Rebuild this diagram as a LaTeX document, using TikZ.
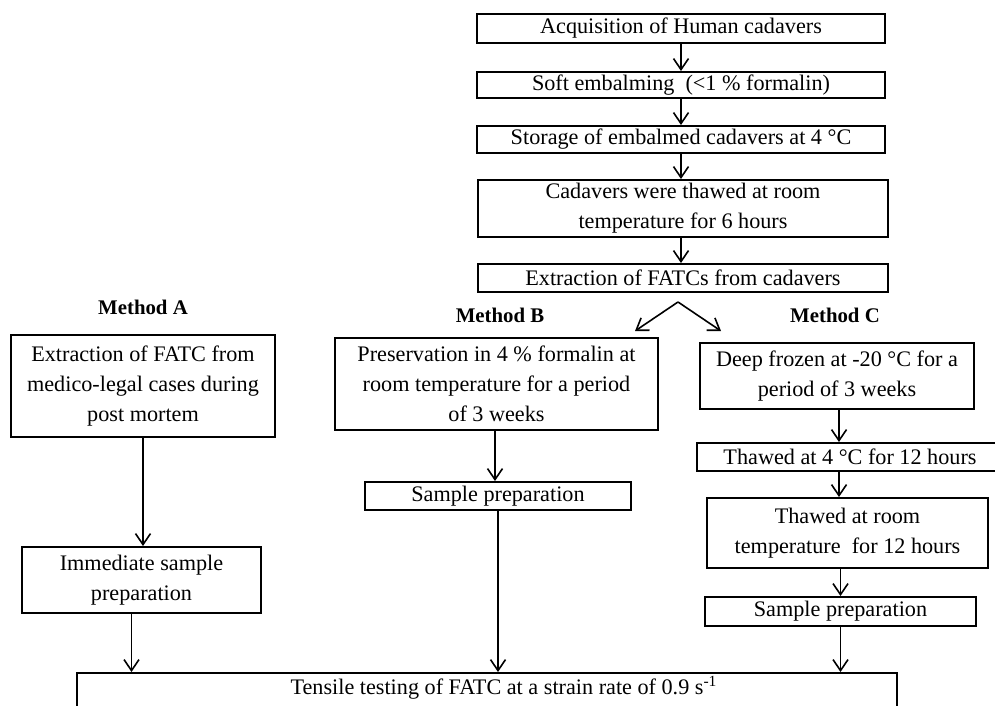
\documentclass[tikz,border=0pt]{standalone}
\usepackage{fontspec}
\setmainfont{Liberation Serif}
\usepackage{tikz}
\usetikzlibrary{arrows.meta, calc, positioning}
\tikzstyle{arrow} = [line width=0.8pt, -{Straight Barb[length=5.5pt,width=7.5pt,line width=0.8pt]}]
\tikzstyle{stepbox} = [draw=black, line width=1pt, rectangle, inner sep=0pt, align=center, font=\fontsize{11.1}{15}\selectfont]
\tikzstyle{method} = [font=\fontsize{10.4}{12}\selectfont\bfseries]
\begin{document}
\begin{tikzpicture}[x=0.5pt, y=-0.5pt]
                    \useasboundingbox (0, 0) rectangle (995, 706);
                    \clip (0, 0) rectangle (995, 706);
                    \fill[white] (0, 0) rectangle (995, 706);
                    \node[stepbox, minimum width=204pt, minimum height=14.5pt] (acq) at (681, 28.5) {Acquisition of Human cadavers};
                    \node[stepbox, minimum width=204pt, minimum height=13pt] (emb) at (681, 85) {Soft embalming\ \ (<1 \% formalin)};
                    \node[stepbox, minimum width=204pt, minimum height=13.5pt] (store) at (681, 139.5) {Storage of embalmed cadavers at 4 °C};
                    \node[stepbox, minimum width=205pt, minimum height=28.5pt] (thaw) at (683, 208.5) {Cadavers were thawed at room\\temperature for 6 hours};
                    \node[stepbox, minimum width=205pt, minimum height=14pt] (extr) at (683, 278) {Extraction of FATCs from cadavers};
                    \coordinate (fork) at (678, 302);
                    \coordinate (forkB) at (635, 331);
                    \coordinate (forkC) at (721, 331);
                    \node[method] (methA) at (143, 307) {Method A};
                    \node[method] (methB) at (500, 315) {Method B};
                    \node[method] (methC) at (835, 315) {Method C};
                    \node[stepbox, minimum width=132pt, minimum height=51pt] (extrA) at (143, 386) {Extraction of FATC from\\medico-legal cases during\\post mortem};
                    \node[stepbox, minimum width=119.5pt, minimum height=33pt] (prepA) at (141.5, 580) {Immediate sample\\preparation};
                    \node[stepbox, minimum width=161.5pt, minimum height=46pt] (presB) at (496.5, 384) {Preservation in 4 \% formalin at\\room temperature for a period\\of 3 weeks};
                    \node[stepbox, minimum width=133pt, minimum height=14pt] (prepB) at (498, 496) {Sample preparation};
                    \node[stepbox, minimum width=137pt, minimum height=33pt] (frozC) at (837, 376) {Deep frozen at -20 °C for a\\period of 3 weeks};
                    \node[stepbox, minimum width=153pt, minimum height=14pt] (thawC) at (850, 457) {Thawed at 4 °C for 12 hours};
                    \node[stepbox, minimum width=140.5pt, minimum height=35pt] (roomC) at (847.5, 533) {Thawed at room\\temperature\ \ for 12 hours};
                    \node[stepbox, minimum width=135.5pt, minimum height=14.5pt] (prepC) at (840.5, 611.5) {Sample preparation};
                    \node[stepbox, anchor=north, minimum width=410pt, inner ysep=2.5pt, text height=8pt, text depth=40pt] (test) at (487, 672) {\hspace*{17pt}Tensile testing of FATC at a strain rate of 0.9 s\textsuperscript{-1}};
                    \draw[arrow] (acq.south) -- (acq.south |- emb.north);
                    \draw[arrow] (emb.south) -- (emb.south |- store.north);
                    \draw[arrow] (store.south) -- (store.south |- thaw.north);
                    \draw[arrow] (store.south |- thaw.south) -- (store.south |- extr.north);
                    \draw[arrow] (fork) -- (forkB);
                    \draw[arrow] (fork) -- (forkC);
                    \draw[arrow] (extrA.south) -- (extrA.south |- prepA.north);
                    \draw[arrow] ([xshift=-5pt]prepA.south) -- ([xshift=-5pt]prepA.south |- test.north);
                    \draw[arrow] ([xshift=-0.75pt]presB.south) -- ([xshift=-0.75pt]presB.south |- prepB.north);
                    \draw[arrow] (prepB.south) -- (prepB.south |- test.north);
                    \draw[arrow] ([xshift=1pt]frozC.south) -- ([xshift=1pt]frozC.south |- thawC.north);
                    \draw[arrow] ([xshift=1pt]frozC.south |- thawC.south) -- ([xshift=1pt]frozC.south |- roomC.north);
                    \draw[arrow] (prepC.south |- roomC.south) -- (prepC.south |- prepC.north);
                    \draw[arrow] (prepC.south) -- (prepC.south |- test.north);
                \end{tikzpicture}
\end{document}
